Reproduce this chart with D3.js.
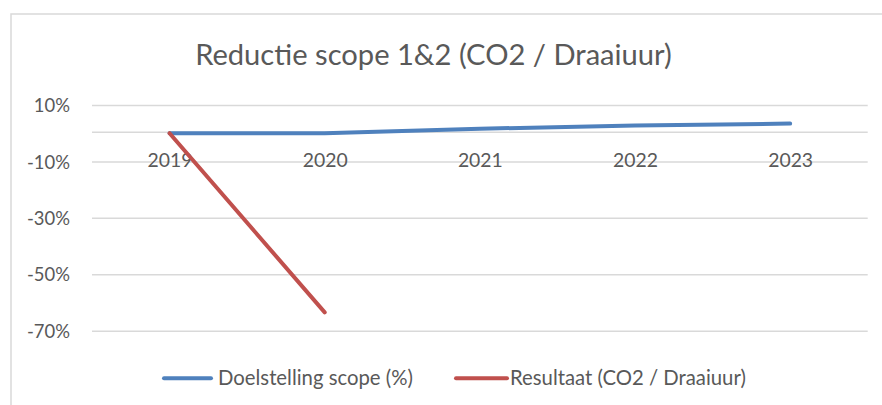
<!DOCTYPE html>
<html><head><meta charset="utf-8">
<script src="https://cdn.jsdelivr.net/npm/d3@7"></script>
<style>html,body{margin:0;padding:0;background:#fff;} svg{display:block;}</style>
</head><body>
<svg id="chart" width="882" height="405"></svg>
<script>
const titleText = "Reductie scope 1&2 (CO2 / Draaiuur)";
const categories = ["2019", "2020", "2021", "2022", "2023"];
const doelstelling = [0, 0, 1.6, 2.7, 3.4];
const resultaat = [0, -63.5, null, null, null];
const yTicks = [10, -10, -30, -50, -70];
const seriesNames = ["Doelstelling scope (%)", "Resultaat (CO2 / Draaiuur)"];
const seriesColors = ["#4F81BD", "#C0504D"];

const FONT = "Lato, 'Open Sans', sans-serif";
const TXT = "#595959";
const GRID = "#D9D9D9";

const svg = d3.select("#chart");
svg.append("rect").attr("width", 882).attr("height", 405).attr("fill", "#fff");
svg.append("rect").attr("x", 11).attr("y", 14).attr("width", 900).attr("height", 420)
  .attr("fill", "none").attr("stroke", GRID).attr("stroke-width", 1.5);

function fit(sel, target) {
  const w = sel.node().getComputedTextLength();
  const fs = parseFloat(sel.attr("font-size"));
  sel.attr("font-size", (fs * target / w).toFixed(2));
}

const plotL = 92, plotR = 867.7;
const x = d3.scalePoint().domain(categories).range([plotL, plotR]).padding(0.5);
const y = d3.scaleLinear().domain([-70, 10]).range([330.7, 105]);

// title
const t = svg.append("text").attr("x", 433.5).attr("y", 65).attr("text-anchor", "middle")
  .attr("font-family", FONT).attr("font-size", 28).attr("fill", TXT).text(titleText);
fit(t, 477);

// gridlines + y labels
const yAxis = d3.axisLeft(y).tickValues(yTicks).tickSize(-(plotR - plotL)).tickPadding(22)
  .tickFormat(d => d + "%");
const gy = svg.append("g").attr("transform", `translate(${plotL},0)`).call(yAxis);
gy.select(".domain").remove();
gy.selectAll(".tick line").attr("stroke", GRID).attr("stroke-width", 1.5);
gy.selectAll(".tick text").attr("fill", TXT).attr("font-family", FONT).attr("font-size", 19)
  .attr("dy", "0.36em");
// category axis line at 0
svg.append("line").attr("x1", plotL).attr("x2", plotR).attr("y1", y(0) - 1).attr("y2", y(0) - 1)
  .attr("stroke", GRID).attr("stroke-width", 1.5);

// category labels
const xAxis = d3.axisBottom(x).tickSize(0).tickPadding(0);
const gx = svg.append("g").attr("transform", `translate(0,${y(0)})`).call(xAxis);
gx.select(".domain").remove();
gx.selectAll(".tick text").attr("fill", TXT).attr("font-family", FONT).attr("font-size", 19)
  .attr("y", 0).attr("dy", 0).attr("transform", "translate(0,34)");

// size tick labels
const sample = gy.selectAll(".tick text").filter(d => d === -10);
const fsY = 19 * 43 / sample.node().getComputedTextLength();
gy.selectAll(".tick text").attr("font-size", fsY.toFixed(2));
const sx = gx.selectAll(".tick text").filter(d => d === "2019");
const fsX = 19 * 45 / sx.node().getComputedTextLength();
gx.selectAll(".tick text").attr("font-size", fsX.toFixed(2));

// lines
const line = d3.line().defined(d => d.v !== null).x(d => x(d.c)).y(d => y(d.v));
[doelstelling, resultaat].forEach((vals, i) => {
  const data = categories.map((c, j) => ({c, v: vals[j]}));
  svg.append("path").datum(data).attr("d", line).attr("fill", "none")
    .attr("stroke", seriesColors[i]).attr("stroke-width", 4)
    .attr("stroke-linecap", "round").attr("stroke-linejoin", "round");
});

// legend
const legItems = [
  {x1: 164, x2: 211, tx: 218, w: 195},
  {x1: 456, x2: 507, tx: 510, w: 236}
];
legItems.forEach((L, i) => {
  svg.append("line").attr("x1", L.x1).attr("x2", L.x2).attr("y1", 378.3).attr("y2", 378.3)
    .attr("stroke", seriesColors[i]).attr("stroke-width", 4).attr("stroke-linecap", "round");
  const tt = svg.append("text").attr("x", L.tx).attr("y", 385).attr("font-family", FONT)
    .attr("font-size", 19).attr("fill", TXT).text(seriesNames[i]);
  fit(tt, L.w);
});
</script>
</body></html>
